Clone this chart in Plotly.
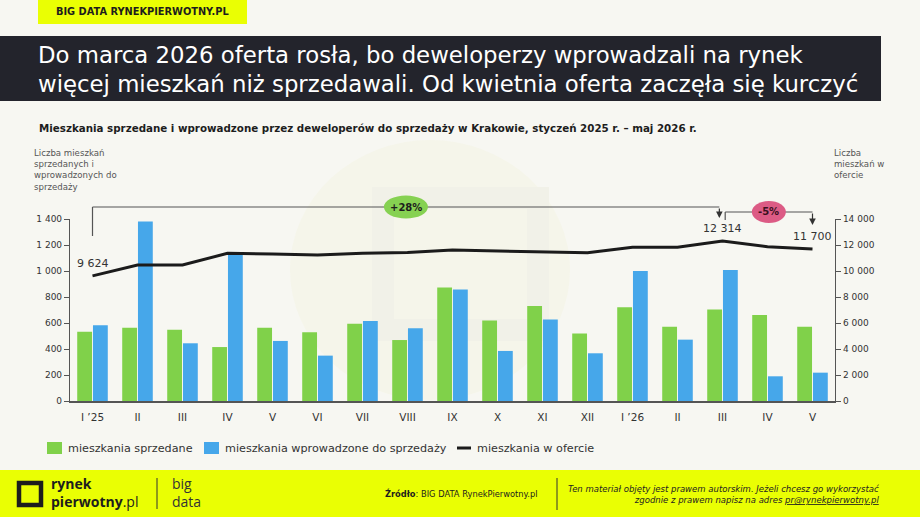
import plotly.graph_objects as go

# ---------------- data ----------------
months = ["I ’25", "II", "III", "IV", "V", "VI", "VII", "VIII", "IX", "X", "XI", "XII",
          "I ’26", "II", "III", "IV", "V"]
sold = [533, 564, 548, 415, 564, 528, 595, 469, 874, 620, 731, 520, 721, 572, 703, 662, 572]
introduced = [582, 1380, 444, 1125, 462, 349, 615, 559, 857, 385, 626, 367, 1000, 472, 1008, 190, 218]
offer = [9624, 10460, 10460, 11360, 11300, 11230, 11360, 11430, 11610, 11540, 11480, 11410,
         11820, 11820, 12314, 11870, 11700]
left_ticks = [0, 200, 400, 600, 800, 1000, 1200, 1400]
right_ticks = [0, 2000, 4000, 6000, 8000, 10000, 12000, 14000]
labeled_points = [0, 14, 16]
change_1 = "+28%"
change_2 = "-5%"

# ---------------- layout geometry ----------------
W, H = 920, 517
L, R, T, B = 70, 85, 219, 116
PW, PH = W - L - R, H - T - B
FONT = "DejaVu Sans"
LOGOFONT = "Open Sans"
BG = "#f7f7f2"
YEL = "#eaff03"
DARK = "#23242c"
GREEN = "#80d14a"
BLUE = "#46a7ea"


def fx(p):
    return (p - L) / PW


def fy(p):
    return (H - B - p) / PH


idx = list(range(len(months)))

fig = go.Figure()
fig.add_trace(go.Bar(x=idx, y=sold, name="mieszkania sprzedane", marker_color=GREEN,
                     marker_line_width=0, showlegend=False))
fig.add_trace(go.Bar(x=idx, y=introduced, name="mieszkania wprowadzone do sprzedaży",
                     marker_color=BLUE, marker_line_width=0, showlegend=False))
fig.add_trace(go.Scatter(x=idx, y=offer, yaxis="y2", mode="lines", name="mieszkania w ofercie",
                         line=dict(color="#1b1b1b", width=3), showlegend=False))

shapes = []
ann = []

# watermark (faint)
shapes.append(dict(type="circle", xref="paper", yref="paper", x0=fx(290), x1=fx(570),
                   y0=fy(400), y1=fy(140), fillcolor="#f5f5ea", line_width=0, layer="below"))
shapes.append(dict(type="rect", xref="paper", yref="paper", x0=fx(383), x1=fx(538),
                   y0=fy(330), y1=fy(198), fillcolor="rgba(0,0,0,0)",
                   line=dict(color="#f1f1e8", width=22), layer="below"))

# top label box
shapes.append(dict(type="rect", xref="paper", yref="paper", x0=fx(38), x1=fx(247),
                   y0=fy(24), y1=fy(-2), fillcolor=YEL, line_width=0))
ann.append(dict(xref="paper", yref="paper", x=fx(142), y=fy(11), text="<b>BIG DATA RYNEKPIERWOTNY.PL</b>",
                showarrow=False, font=dict(family=FONT, size=9.8, color="#1d1d1d"),
                xanchor="center", yanchor="middle"))

# title banner
shapes.append(dict(type="rect", xref="paper", yref="paper", x0=fx(-2), x1=fx(881),
                   y0=fy(101), y1=fy(36), fillcolor=DARK, line_width=0))
ann.append(dict(xref="paper", yref="paper", x=fx(36), y=fy(55),
                text="Do marca 2026 oferta rosła, bo deweloperzy wprowadzali na rynek",
                showarrow=False, font=dict(family=FONT, size=22.8, color="white"),
                xanchor="left", yanchor="middle"))
ann.append(dict(xref="paper", yref="paper", x=fx(36), y=fy(84),
                text="więcej mieszkań niż sprzedawali. Od kwietnia oferta zaczęła się kurczyć",
                showarrow=False, font=dict(family=FONT, size=22.8, color="white"),
                xanchor="left", yanchor="middle"))

# subtitle
ann.append(dict(xref="paper", yref="paper", x=fx(37), y=fy(128),
                text="<b>Mieszkania sprzedane i wprowadzone przez deweloperów do sprzedaży w Krakowie, styczeń 2025 r. – maj 2026 r.</b>",
                showarrow=False, font=dict(family=FONT, size=10.3, color="#1d1d1d"),
                xanchor="left", yanchor="middle"))

# axis titles
ann.append(dict(xref="paper", yref="paper", x=fx(32), y=fy(146),
                text="Liczba mieszkań<br>sprzedanych i<br>wprowadzonych do<br>sprzedaży",
                showarrow=False, align="left", font=dict(family=FONT, size=8.6, color="#555"),
                xanchor="left", yanchor="top"))
ann.append(dict(xref="paper", yref="paper", x=fx(832), y=fy(146),
                text="Liczba<br>mieszkań w<br>ofercie",
                showarrow=False, align="left", font=dict(family=FONT, size=8.6, color="#555"),
                xanchor="left", yanchor="top"))

# line value labels
for i in labeled_points:
    ann.append(dict(xref="x", yref="y2", x=i, y=offer[i], yshift=4,
                    text=f"{offer[i]:,}".replace(",", " "), showarrow=False,
                    font=dict(family=FONT, size=11, color="#333"),
                    xanchor="center", yanchor="bottom"))

# bracket 1 (+28%)
b1a, b1b = 0, 13.93
lc = dict(color="#555", width=1.2)
shapes.append(dict(type="line", xref="x", yref="paper", x0=b1a, x1=b1a, y0=fy(236), y1=fy(207), line=lc))
shapes.append(dict(type="line", xref="x", yref="paper", x0=b1a, x1=b1b, y0=fy(207), y1=fy(207), line=lc))
ann.append(dict(xref="x", yref="paper", x=b1b, y=fy(218), ax=0, ay=-11, text="", showarrow=True,
                arrowhead=2, arrowsize=1.1, arrowwidth=1.2, arrowcolor="#333"))
m1 = (b1a + b1b) / 2
shapes.append(dict(type="circle", xref="x", yref="paper", xsizemode="pixel", ysizemode="pixel",
                   xanchor=m1, yanchor=fy(207), x0=-22, x1=22, y0=-11.5, y1=11.5,
                   fillcolor="#86d152", line_width=0))
ann.append(dict(xref="x", yref="paper", x=m1, y=fy(207), text=f"<b>{change_1}</b>", showarrow=False,
                font=dict(family=FONT, size=10, color="#1d1d1d"), xanchor="center", yanchor="middle"))

# bracket 2 (-5%)
b2a, b2b = 14.06, 16
shapes.append(dict(type="line", xref="x", yref="paper", x0=b2a, x1=b2a, y0=fy(220), y1=fy(212), line=lc))
shapes.append(dict(type="line", xref="x", yref="paper", x0=b2a, x1=b2b, y0=fy(212), y1=fy(212), line=lc))
ann.append(dict(xref="x", yref="paper", x=b2b, y=fy(225), ax=0, ay=-13, text="", showarrow=True,
                arrowhead=2, arrowsize=1.1, arrowwidth=1.2, arrowcolor="#333"))
m2 = (b2a + b2b) / 2
shapes.append(dict(type="circle", xref="x", yref="paper", xsizemode="pixel", ysizemode="pixel",
                   xanchor=m2, yanchor=fy(212), x0=-17, x1=17, y0=-11, y1=11,
                   fillcolor="#dc5b85", line_width=0))
ann.append(dict(xref="x", yref="paper", x=m2, y=fy(212), text=f"<b>{change_2}</b>", showarrow=False,
                font=dict(family=FONT, size=10, color="#3a1020"), xanchor="center", yanchor="middle"))

# custom legend
leg_y = 448
items = [(47, GREEN, "mieszkania sprzedane", "sq"),
         (204, BLUE, "mieszkania wprowadzone do sprzedaży", "sq"),
         (457, "#1b1b1b", "mieszkania w ofercie", "ln")]
for x0, col, txt, kind in items:
    if kind == "sq":
        shapes.append(dict(type="rect", xref="paper", yref="paper", x0=fx(x0), x1=fx(x0 + 15),
                           y0=fy(leg_y + 6), y1=fy(leg_y - 6), fillcolor=col, line_width=0))
        tx = x0 + 19
    else:
        shapes.append(dict(type="line", xref="paper", yref="paper", x0=fx(x0), x1=fx(x0 + 14),
                           y0=fy(leg_y), y1=fy(leg_y), line=dict(color=col, width=3)))
        tx = x0 + 18
    ann.append(dict(xref="paper", yref="paper", x=fx(tx), y=fy(leg_y), text=txt, showarrow=False,
                    font=dict(family=FONT, size=11.2, color="#333"), xanchor="left", yanchor="middle"))

# footer
shapes.append(dict(type="rect", xref="paper", yref="paper", x0=fx(-2), x1=fx(W + 2),
                   y0=fy(H + 2), y1=fy(470), fillcolor=YEL, line_width=0))
shapes.append(dict(type="rect", xref="paper", yref="paper", x0=fx(19), x1=fx(41),
                   y0=fy(505), y1=fy(483), fillcolor="rgba(0,0,0,0)",
                   line=dict(color="#1d1d1d", width=4.5)))
ann.append(dict(xref="paper", yref="paper", x=fx(49), y=fy(492), text="<b>rynek<br>pierwotny</b>.pl",
                showarrow=False, align="left", font=dict(family=LOGOFONT, size=14, color="#1d1d1d"),
                xanchor="left", yanchor="middle"))
shapes.append(dict(type="line", xref="paper", yref="paper", x0=fx(157), x1=fx(157),
                   y0=fy(509), y1=fy(478), line=dict(color="#333", width=1)))
ann.append(dict(xref="paper", yref="paper", x=fx(170), y=fy(492), text="big<br>data",
                showarrow=False, align="left", font=dict(family=LOGOFONT, size=14, color="#333"),
                xanchor="left", yanchor="middle"))
ann.append(dict(xref="paper", yref="paper", x=fx(383), y=fy(493),
                text="<b>Źródło</b>: BIG DATA RynekPierwotny.pl", showarrow=False,
                font=dict(family=FONT, size=8.3, color="#1d1d1d"), xanchor="left", yanchor="middle"))
shapes.append(dict(type="line", xref="paper", yref="paper", x0=fx(557), x1=fx(557),
                   y0=fy(510), y1=fy(478), line=dict(color="#333", width=1)))
ann.append(dict(xref="paper", yref="paper", x=fx(881), y=fy(494),
                text="<i>Ten materiał objęty jest prawem autorskim. Jeżeli chcesz go wykorzystać<br>"
                     "zgodnie z prawem napisz na adres <u>pr@rynekpierwotny.pl</u></i>",
                showarrow=False, align="right", font=dict(family=FONT, size=8.5, color="#222"),
                xanchor="right", yanchor="middle"))

fig.update_layout(
    width=W, height=H, margin=dict(l=L, r=R, t=T, b=B, pad=0),
    paper_bgcolor=BG, plot_bgcolor="rgba(0,0,0,0)",
    font=dict(family=FONT, color="#333"),
    separators=", ",
    barmode="group", bargap=0.3, bargroupgap=0.06,
    showlegend=False,
    xaxis=dict(range=[-0.5, len(months) - 0.5], tickmode="array", tickvals=idx, ticktext=months,
               showgrid=False, zeroline=False, showline=True, linecolor="#555", linewidth=1.5,
               ticks="", ticklabelstandoff=6, tickfont=dict(size=10.5, color="#333"), fixedrange=True),
    yaxis=dict(range=[0, 1400], tickvals=left_ticks, tickformat=",d", showgrid=False,
               zeroline=False, showline=True, linecolor="#555", linewidth=1.2,
               ticks="outside", ticklen=5, tickcolor="#555", tickfont=dict(size=9, color="#333")),
    yaxis2=dict(range=[0, 14000], tickvals=right_ticks, tickformat=",d", overlaying="y",
                side="right", showgrid=False, zeroline=False, showline=True, linecolor="#555",
                linewidth=1.2, ticks="outside", ticklen=5, tickcolor="#555",
                tickfont=dict(size=9, color="#333")),
    shapes=shapes, annotations=ann,
)

fig.write_html("out.html")
